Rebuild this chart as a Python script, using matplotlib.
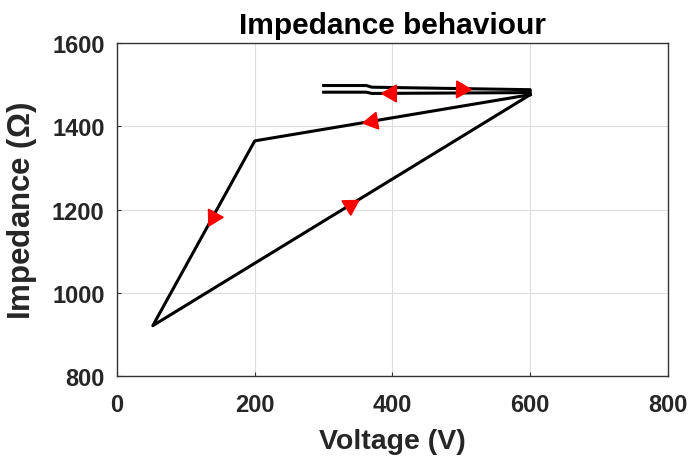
import numpy as np
import matplotlib
matplotlib.use('Agg')
import matplotlib.pyplot as plt

plt.rcParams['font.family'] = ['Liberation Sans', 'DejaVu Sans']
plt.rcParams['font.weight'] = 'bold'

# top sweep: out along upper trace, back along lower trace
top_v = [300, 362, 370, 600, 600, 370, 362, 300]
top_z = [1498, 1498, 1494, 1488, 1481, 1479, 1482, 1482]

# main loop: 600 V -> 200 V -> 50 V -> 600 V
loop_v = [600, 200, 52, 600]
loop_z = [1476, 1365, 921, 1476]

# arrow positions (voltage along a segment) and which segment they sit on
arrow_v = [500, 398, 370, 139, 338]
arrow_seg = [('top', 2), ('top', 4), ('loop', 0), ('loop', 1), ('loop', 2)]

fig = plt.figure(figsize=(6.94, 4.64), dpi=100)
ax = fig.add_axes([0.1686, 0.1875, 0.7939, 0.7175])

ax.plot(top_v, top_z, color='black', lw=2.2)
ax.plot(loop_v, loop_z, color='black', lw=2.2)

ax.set_xlim(0, 800)
ax.set_ylim(800, 1600)
ax.set_xticks([0, 200, 400, 600, 800])
ax.set_yticks([800, 1000, 1200, 1400, 1600])
ax.grid(True, color='#dddddd', lw=0.8)
ax.tick_params(direction='in', length=3, labelsize=17, color='#333333',
               labelcolor='#262626')
ax.tick_params(axis='x', pad=12)
ax.tick_params(axis='y', pad=9)
for s in ax.spines.values():
    s.set_color('#333333')
    s.set_linewidth(1.0)

ax.set_xlabel('Voltage (V)', fontsize=20.5, fontweight='bold', color='#262626',
              labelpad=9)
ax.set_ylabel('Impedance ($\\mathregular{\\Omega}$)', fontsize=22.5,
              fontweight='bold', color='#262626', labelpad=9)
ax.set_title('Impedance behaviour', fontsize=21.5, fontweight='bold', pad=7)

fig.canvas.draw()
series = {'top': (top_v, top_z), 'loop': (loop_v, loop_z)}
for v, (name, i) in zip(arrow_v, arrow_seg):
    xs, ys = series[name]
    x0, y0, x1, y1 = xs[i], ys[i], xs[i + 1], ys[i + 1]
    t = (v - x0) / (x1 - x0)
    z = y0 + t * (y1 - y0)
    p0 = ax.transData.transform((x0, y0))
    p1 = ax.transData.transform((x1, y1))
    ang = np.degrees(np.arctan2(p1[1] - p0[1], p1[0] - p0[0]))
    ax.plot(v, z, marker=(3, 0, ang - 90), markersize=14, color='red',
            markeredgecolor='red', zorder=5)

fig.savefig('out.png', dpi=100)
